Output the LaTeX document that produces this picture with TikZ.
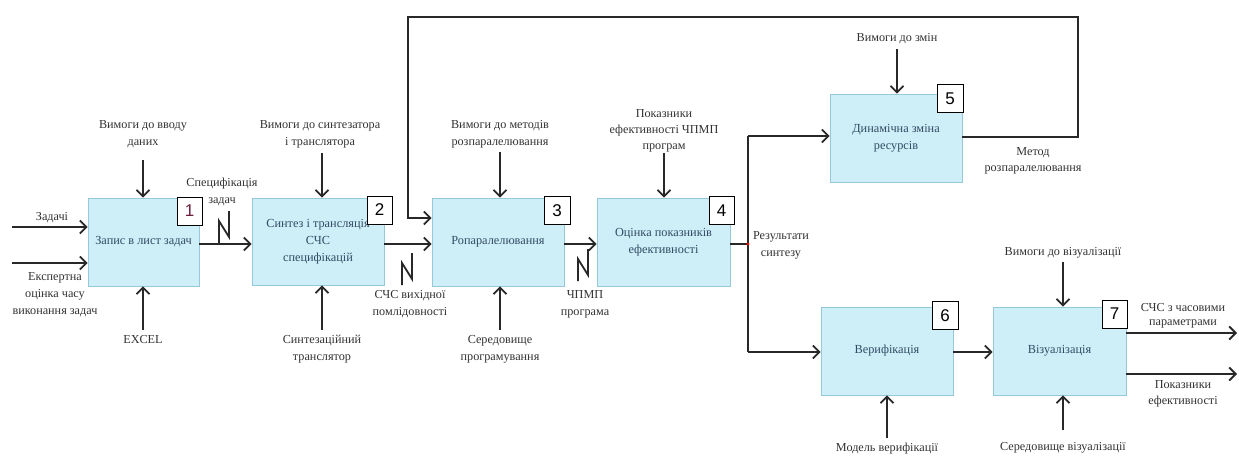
\documentclass[tikz,border=0pt]{standalone}
\usepackage{fontspec}
\setmainfont{Liberation Serif}
\newfontfamily\numfont{Liberation Sans}
\usetikzlibrary{arrows.meta}
\definecolor{boxfill}{RGB}{206,238,248}
\definecolor{boxline}{RGB}{150,200,220}
\definecolor{boxtext}{RGB}{50,75,100}
\definecolor{labtext}{RGB}{50,50,50}
\definecolor{linec}{RGB}{40,40,40}
\definecolor{numred}{RGB}{110,30,60}
\tikzset{
  procbox/.style={draw=boxline, fill=boxfill, line width=0.8pt, inner sep=0pt,
    minimum width=132pt, minimum height=88pt, align=center, text=boxtext,
    font=\fontsize{12.3}{17}\selectfont},
  numbox/.style={draw=black, fill=white, line width=0.9pt, inner sep=0pt,
    minimum width=25pt, minimum height=28pt, font=\numfont\fontsize{17}{17}\selectfont},
  lab/.style={align=center, text=labtext, inner sep=0pt, font=\fontsize{12.2}{17}\selectfont},
  arr/.style={draw=linec, line width=2pt, -{Straight Barb[length=6.5pt,width=13pt,line width=1.8pt]}},
  ln/.style={draw=linec, line width=2pt},
  squig/.style={draw=linec, line width=1.8pt}
}
\begin{document}
\begin{tikzpicture}[x=1pt,y=-1pt]
\useasboundingbox (0,0) rectangle (1239,476);

% process boxes
\node[procbox, minimum width=111pt] (b1) at (143.5,242) {Запис в лист задач};
\node[procbox, minimum height=87pt] (b2) at (318,241.5) {Синтез і трансляція\\СЧС\\специфікацій};
\node[procbox] (b3) at (498,242) {Ропаралелювання};
\node[procbox, minimum width=133pt] (b4) at (663.5,242) {Оцінка показників\\ефективності};
\node[procbox] (b5) at (896,138) {Динамічна зміна\\ресурсів};
\node[procbox] (b6) at (887,351) {Верифікація};
\node[procbox, minimum width=133pt] (b7) at (1059.5,351) {Візуалізація};

% number boxes
\node[numbox, text=numred] (n1) at (189.5,211) {1};
\node[numbox] (n2) at (379.5,210) {2};
\node[numbox, minimum width=26pt] (n3) at (557,210.5) {3};
\node[numbox] (n4) at (721.5,210.5) {4};
\node[numbox, minimum width=26pt] (n5) at (950,98.5) {5};
\node[numbox, minimum width=26pt] (n6) at (945,315.5) {6};
\node[numbox] (n7) at (1114.5,314) {7};

% labels
\node[lab] (l1) at (52,218) {Задачі};
\node[lab] (l2) at (55,295) {Експертна\\оцінка часу\\виконання задач};
\node[lab] (l3) at (143,134) {Вимоги до вводу\\даних};
\node[lab] (l4) at (143,340) {EXCEL};
\node[lab] (l5) at (222,192) {Специфікація\\задач};
\node[lab] (l6) at (320,134) {Вимоги до синтезатора\\і транслятора};
\node[lab] (l7) at (322,349) {Синтезаційний\\транслятор};
\node[lab] (l8) at (410,304) {СЧС вихідної\\помлідовності};
\node[lab] (l9) at (500,134) {Вимоги до методів\\розпаралелювання};
\node[lab] (l10) at (500,349) {Середовище\\програмування};
\node[lab] (l11) at (585,304) {ЧПМП\\програма};
\node[lab, font=\fontsize{12.2}{16}\selectfont] (l12) at (664,131) {Показники\\ефективності ЧПМП\\програм};
\node[lab] (l13) at (781,245) {Результати\\синтезу};
\node[lab] (l14) at (897,39) {Вимоги до змін};
\node[lab, font=\fontsize{12.2}{16}\selectfont] (l15) at (1033,161) {Метод\\розпаралелювання};
\node[lab] (l16) at (887,449) {Модель верифікації};
\node[lab] (l17) at (1063,253) {Вимоги до візуалізації};
\node[lab] (l18) at (1063,448) {Середовище візуалізації};
\node[lab, font=\fontsize{12.2}{14}\selectfont] (l19) at (1183,316) {СЧС з часовими\\параметрами};
\node[lab, font=\fontsize{12.2}{16}\selectfont] (l20) at (1183,394) {Показники\\ефективності};

% coordinates for free ends
\coordinate (i1) at (12,227);
\coordinate (i2) at (12,263);
\coordinate (t1) at (143,160);
\coordinate (m1) at (143,330);
\coordinate (t2) at (322,153);
\coordinate (m2) at (322,330);
\coordinate (t3) at (500,152);
\coordinate (m3) at (500,330);
\coordinate (t4) at (664,153);
\coordinate (j) at (748,244);
\coordinate (ja) at (748,136);
\coordinate (jb) at (748,352);
\coordinate (t5) at (897,49);
\coordinate (fr) at (1078,137);
\coordinate (fb) at (1078,17);
\coordinate (fl) at (408,17);
\coordinate (fd) at (408,218);
\coordinate (m6) at (887,438);
\coordinate (t7) at (1063,262);
\coordinate (m7) at (1063,430);
\coordinate (o1) at (1237,333);
\coordinate (o2) at (1237,374);

% inputs to b1
\draw[arr] (i1) -- (i1 -| b1.west);
\draw[arr] (i2) -- (i2 -| b1.west);
\draw[arr] (t1) -- (t1 |- b1.north);
\draw[arr] (m1) -- (m1 |- b1.south);
% b1 -> b2
\draw[arr] (b1.east |- 0,244) -- (b2.west |- 0,244);
\draw[arr] (t2) -- (t2 |- b2.north);
\draw[arr] (m2) -- (m2 |- b2.south);
% b2 -> b3
\draw[arr] (b2.east |- 0,244) -- (b3.west |- 0,244);
\draw[arr] (t3) -- (t3 |- b3.north);
\draw[arr] (m3) -- (m3 |- b3.south);
% b3 -> b4
\draw[arr] (b3.east |- 0,244) -- (b4.west |- 0,244);
\draw[arr] (t4) -- (t4 |- b4.north);
% b4 -> junction
\draw[ln] (b4.east |- j) -- (j);
\draw[ln] (ja) -- (jb);
\draw[arr] (ja) -- (ja -| b5.west);
\draw[arr] (jb) -- (jb -| b6.west);
\fill[red] (j) circle (1.6pt);
% b5
\draw[arr] (t5) -- (t5 |- b5.north);
\draw[arr, line join=miter] (b5.east |- fr) -- (fr) -- (fb) -- (fl) -- (fd) -- (fd -| b3.west);
% b6
\draw[arr] (m6) -- (m6 |- b6.south);
\draw[arr] (b6.east |- 0,352) -- (b7.west |- 0,352);
% b7
\draw[arr] (t7) -- (t7 |- b7.north);
\draw[arr] (m7) -- (m7 |- b7.south);
\draw[arr] (o1 -| b7.east) -- (o1);
\draw[arr] (o2 -| b7.east) -- (o2);

% squiggles
\draw[squig] (219,243) -- (219,221) -- (229,237) -- (229,211);
\draw[squig] (402,285) -- (402,263) -- (412,279) -- (412,253);
\draw[squig] (578,281) -- (578,259) -- (588,275) -- (588,249);
\end{tikzpicture}
\end{document}
